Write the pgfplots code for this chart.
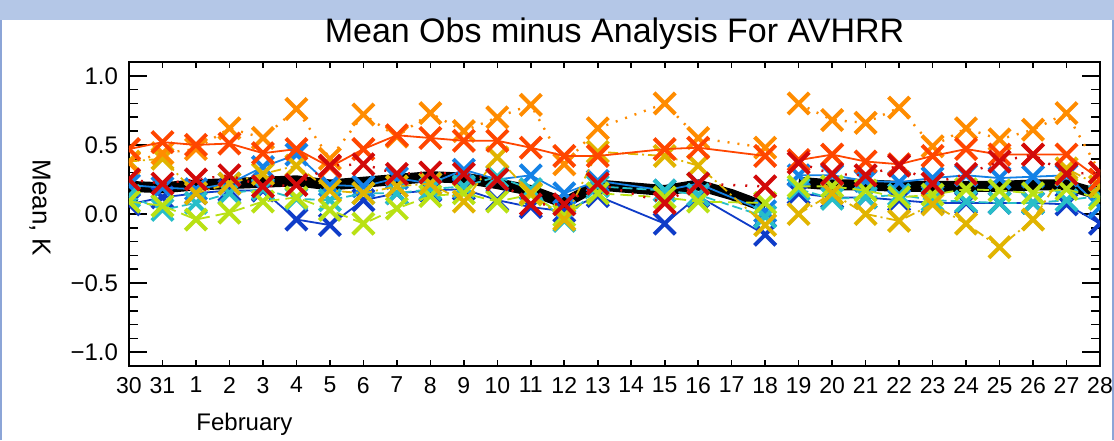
\documentclass[border=0pt]{standalone}
\usepackage{fontspec}
\setmainfont{Liberation Sans}
\usepackage{pgfplots}
\usepackage{pgfplotstable}
\pgfplotsset{compat=1.18}
\definecolor{cOD}{RGB}{255,140,0}
\definecolor{cOR}{RGB}{255,70,0}
\definecolor{cRD}{RGB}{210,10,10}
\definecolor{cGD}{RGB}{225,180,0}
\definecolor{cYG}{RGB}{185,225,20}
\definecolor{cCY}{RGB}{40,190,200}
\definecolor{cMB}{RGB}{20,130,230}
\definecolor{cDB}{RGB}{15,60,200}
\definecolor{band}{RGB}{180,199,231}
\definecolor{edge}{RGB}{140,165,215}

\pgfplotstableread{
d    OD    OR    RD    GD    YG    CY    MB    DB
0    0.37  0.47  0.25  0.38  0.09  0.13  0.21  0.07
1    0.44  0.52  0.22  0.40  0.06  0.03  0.19  0.12
2    0.47  0.50  0.25  0.15  -0.04 0.08  0.18  0.15
3    0.62  0.51  0.28  0.22  0.01  0.15  0.22  0.17
4    0.55  0.44  0.20  0.29  0.09  0.18  0.34  0.17
5    0.76  0.47  0.21  0.35  0.12  0.11  0.43  -0.04
6    0.40  0.34  0.35  0.17  0.03  0.10  0.21  -0.08
7    0.72  0.47  0.36  0.15  -0.07 0.15  0.20  0.10
8    0.56  0.57  0.29  0.20  0.04  0.15  0.26  0.15
9    0.73  0.55  0.30  0.22  0.13  0.18  0.22  0.17
10   0.60  0.53  0.29  0.09  0.15  0.20  0.32  0.18
11   0.70  0.53  0.25  0.41  0.09  0.27  0.25  0.10
12   0.79  0.48  0.07  0.15  0.14  0.18  0.28  0.05
13   0.36  0.42  0.07  -0.04 -0.01 -0.05 0.15  0.02
14   0.62  0.42  0.22  0.45  0.15  0.20  0.24  0.13
16   0.80  0.47  0.08  0.42  0.12  0.17  0.17  -0.07
17   0.55  0.48  0.22  0.35  0.09  0.14  0.22  0.13
19   0.48  0.42  0.20  -0.08 0.08  -0.02 0.02  -0.15
19.5 nan   nan   nan   nan   nan   nan   nan   nan
20   0.80  0.39  0.37  0.00  0.20  0.18  0.28  0.15
21   0.68  0.43  0.29  0.15  0.20  0.11  0.28  0.12
22   0.66  0.38  0.28  0.00  0.17  0.12  0.24  0.12
23   0.77  0.36  0.35  -0.05 0.12  0.14  0.23  0.10
24   0.49  0.42  0.22  0.07  0.14  0.10  0.26  0.08
25   0.62  0.47  0.29  -0.07 0.18  0.09  0.28  0.08
26   0.54  0.43  0.38  -0.24 0.17  0.08  0.26  0.08
27   0.61  0.43  0.43  -0.04 0.15  0.08  0.27  0.08
28   0.73  0.43  0.29  0.33  0.18  0.10  0.28  0.07
29   0.30  0.25  0.30  0.20  0.11  0.13  0.05  -0.07
}\marks

\pgfplotstableread{
d    v
0    0.20
1    0.19
2    0.21
3    0.22
4    0.23
5    0.24
6    0.21
7    0.23
8    0.25
9    0.27
10   0.26
11   0.22
12   0.17
13   0.08
14   0.21
15   0.19
16   0.17
17   0.21
18   0.14
19   0.05
19.5 nan
20   0.23
21   0.21
22   0.21
23   0.20
24   0.20
25   0.20
26   0.20
27   0.21
28   0.21
29   0.14
}\blackline

\begin{document}
\begin{tikzpicture}
\fill[white] (-64.5pt,-37pt) rectangle (492.5pt,183pt);
\fill[band] (-64.5pt,173pt) rectangle (492.5pt,183pt);
\draw[edge, line width=1pt] (-64pt,-37pt) -- (-64pt,173pt);
\draw[edge, line width=1pt] (492pt,-37pt) -- (492pt,173pt);
\begin{axis}[
  scale only axis,
  width=485.5pt, height=152pt,
  xmin=0, xmax=29, ymin=-1.1, ymax=1.1,
  unbounded coords=jump,
  clip marker paths=true,
  axis line style={line width=1pt},
  tick align=inside,
  tick style={black, line width=0.8pt},
  major tick length=9pt,
  minor tick length=4.5pt,
  xtick style={/pgfplots/major tick length=3pt},
  xtick={0,...,29},
  xticklabels={30,31,1,2,3,4,5,6,7,8,9,10,11,12,13,14,15,16,17,18,19,20,21,22,23,24,25,26,27,28},
  ytick={-1,-0.5,0,0.5,1},
  yticklabels={−1.0,−0.5,0.0,0.5,1.0},
  minor ytick={-1.1,-0.9,-0.8,-0.7,-0.6,-0.4,-0.3,-0.2,-0.1,0.1,0.2,0.3,0.4,0.6,0.7,0.8,0.9,1.1},
  /pgf/number format/assume math mode=true,
  xticklabel style={font=\fontsize{11.5}{12}\selectfont, yshift=-2pt},
  yticklabel style={font=\fontsize{12}{12}\selectfont, xshift=-2pt},
  title={Mean Obs minus Analysis For AVHRR},
  title style={font=\fontsize{17}{17}\selectfont, at={(0.5,1)}, anchor=base, yshift=4pt, inner sep=0pt},
  ylabel={Mean, K},
  ylabel style={font=\fontsize{13}{13}\selectfont, at={(axis description cs:-0.0917,0.52)}, anchor=center, rotate=180},
  every axis plot/.append style={mark=x, mark size=7.5pt, mark options={solid, line width=2pt}},
]
\addplot[black, line width=5.5pt, no markers] table[x=d, y=v] {\blackline};
\addplot[cDB, line width=0.9pt] table[x=d, y=DB] {\marks};
\addplot[cMB, line width=0.9pt] table[x=d, y=MB] {\marks};
\addplot[cCY, line width=0.9pt, dash pattern=on 5pt off 2pt] table[x=d, y=CY] {\marks};
\addplot[cYG, line width=0.9pt, dash pattern=on 6pt off 3pt] table[x=d, y=YG] {\marks};
\addplot[cGD, line width=0.9pt, dash pattern=on 5pt off 2pt on 1pt off 2pt] table[x=d, y=GD] {\marks};
\addplot[cOD, line width=1.2pt, dash pattern=on 1pt off 4pt] table[x=d, y=OD] {\marks};
\addplot[cOR, line width=0.9pt] table[x=d, y=OR] {\marks};
\addplot[cRD, line width=1.2pt, dash pattern=on 1pt off 5pt] table[x=d, y=RD] {\marks};
\end{axis}
\node[anchor=base west, inner sep=0pt, font=\fontsize{12}{12}\selectfont] at (33.5pt,-32pt) {February};
\pgfresetboundingbox
\path[use as bounding box] (-64.5pt,-37pt) rectangle (492.5pt,183pt);
\end{tikzpicture}
\end{document}
